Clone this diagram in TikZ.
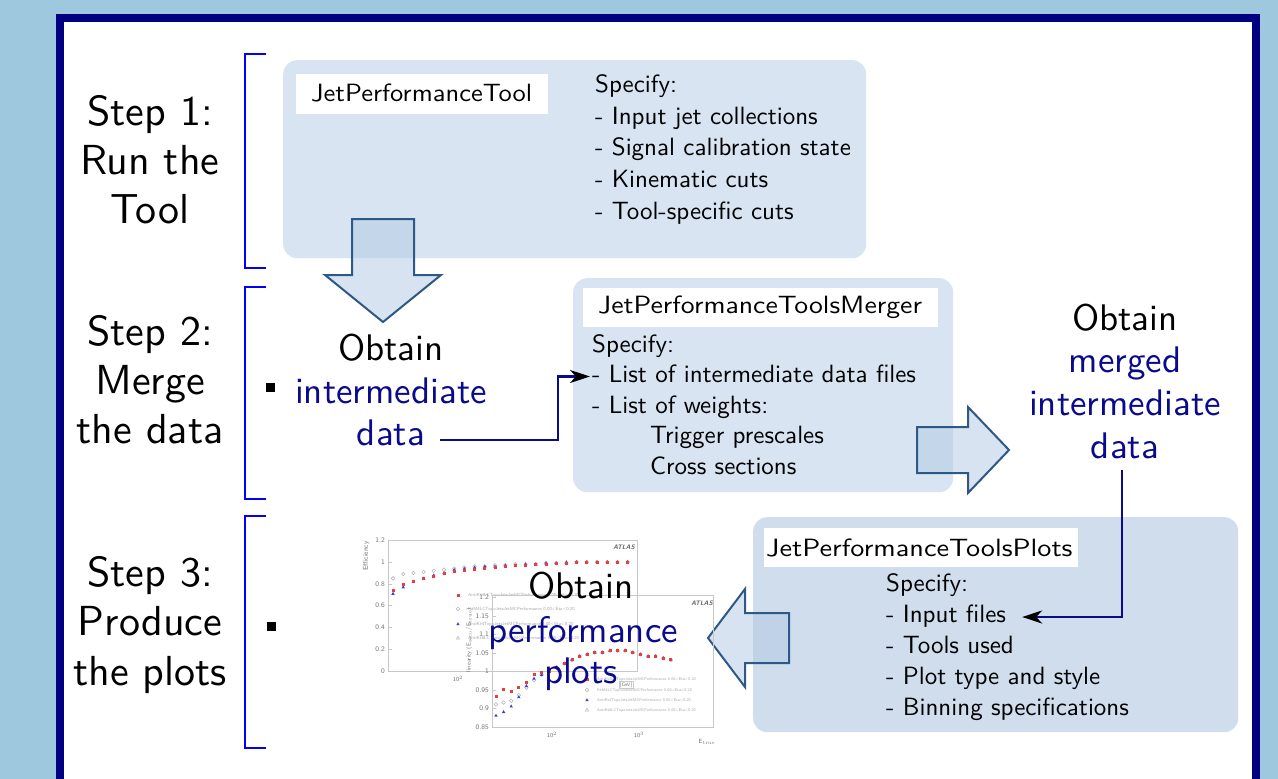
\documentclass[tikz,border=0pt]{standalone}
\usetikzlibrary{arrows.meta}
% Latin Modern Sans at its 10pt design size, used at every size
\DeclareFontFamily{TU}{lmssten}{}
\DeclareFontShape{TU}{lmssten}{m}{n}{<-> "[lmsans10-regular]:+tlig;"}{}
\definecolor{bgblue}{RGB}{157,200,222}
\definecolor{framenavy}{RGB}{0,0,128}
\definecolor{bracketblue}{RGB}{0,0,255}
\definecolor{boxfill}{RGB}{216,228,242}
\definecolor{boxfillb}{RGB}{207,221,236}
\definecolor{arrowfill}{RGB}{178,201,228}
\definecolor{arrowedge}{RGB}{46,88,133}
\definecolor{textnavy}{RGB}{10,10,140}
\definecolor{ptred}{RGB}{235,60,60}
\definecolor{ptblue}{RGB}{60,60,230}
\newcommand{\tensans}{\fontfamily{lmssten}\fontseries{m}\fontshape{n}}
\tikzset{
  steplabel/.style={font=\tensans\fontsize{42}{49}\selectfont, anchor=base, inner sep=0pt},
  obtain/.style={font=\tensans\fontsize{37}{42}\selectfont, anchor=base, inner sep=0pt},
  spec/.style={font=\tensans\fontsize{25}{31}\selectfont, anchor=base west, inner sep=0pt},
  tagtext/.style={font=\tensans\fontsize{25}{30}\selectfont, anchor=base west, inner sep=0pt},
  tag/.style={fill=white, anchor=north west, inner sep=0pt},
  panel/.style={fill=#1, rounded corners=14pt, anchor=north west, inner sep=0pt},
  bracket/.style={draw=bracketblue, line width=2.5pt},
  bigarrow/.style={draw=arrowedge, line width=2pt, fill=arrowfill, fill opacity=0.5, line join=miter},
  conn/.style={draw=textnavy, line width=2.5pt, line join=miter,
    -{Stealth[length=20pt,width=13pt,inset=6pt,black]}},
  bulletsq/.style={fill=black, minimum size=9pt, inner sep=0pt},
  plotframe/.style={draw=black!22, line width=0.8pt},
  ticklab/.style={font=\sffamily\fontsize{7}{8}\selectfont, text=black!55, inner sep=0pt},
  leglab/.style={font=\sffamily\fontsize{4.5}{5}\selectfont, text=black!35, anchor=west, inner sep=0pt},
  atlas/.style={font=\sffamily\bfseries\itshape\fontsize{6.5}{7}\selectfont, text=black!60, inner sep=0pt},
}
\begin{document}
\begin{tikzpicture}[x=1pt,y=-1pt]
\useasboundingbox (0,0) rectangle (1278,779);
% backdrop and slide frame
\fill[bgblue] (0,0) rectangle (1278,779);
\fill[framenavy] (56,14) rectangle (1260,779);
\fill[white] (64,22) rectangle (1252,779);

% step brackets
\draw[bracket] (266,54) -- (245,54) -- (245,268) -- (266,268);
\draw[bracket] (266,287) -- (245,287) -- (245,499) -- (266,499);
\draw[bracket] (266,516) -- (245,516) -- (245,748) -- (266,748);

% step labels
\node[steplabel] (s1a) at (150,125) {Step 1:};
\node[steplabel] (s1b) at (150,174) {Run the};
\node[steplabel] (s1c) at (150,223) {Tool};
\node[steplabel] (s2a) at (150,345) {Step 2:};
\node[steplabel] (s2b) at (150,394) {Merge};
\node[steplabel] (s2c) at (150,443) {the data};
\node[steplabel] (s3a) at (150,586) {Step 3:};
\node[steplabel] (s3b) at (150,635) {Produce};
\node[steplabel] (s3c) at (150,685) {the plots};

% bullets
\node[bulletsq] (b2) at (270,387) {};
\node[bulletsq] (b3) at (271,626) {};

% tool panels
\node[panel=boxfill, minimum width=583pt, minimum height=198pt] (toolpanel) at (283,60) {};
\node[panel=boxfill, minimum width=380pt, minimum height=214pt] (mergepanel) at (573,278) {};
\node[panel=boxfillb, minimum width=485pt, minimum height=215pt] (plotpanel) at (753,517) {};

% panel titles
\node[tag, minimum width=252pt, minimum height=40pt] (tag1) at (296,74) {};
\node[tagtext] (title1) at (311,101) {\scalebox{1.06}[1]{JetPerformanceTool}};
\node[tag, minimum width=355pt, minimum height=39pt] (tag2) at (583,288) {};
\node[tagtext] (title2) at (598,313) {\scalebox{1.11}[1]{JetPerformanceToolsMerger}};
\node[tag, minimum width=314pt, minimum height=39pt] (tag3) at (764,528) {};
\node[tagtext] (title3) at (766,556) {\scalebox{1.13}[1]{JetPerformanceToolsPlots}};

% panel contents
\node[spec] (t1) at (595,92) {Specify:};
\node[spec] (t2) at (595,124) {- Input jet collections};
\node[spec] (t3) at (595,155.5) {- Signal calibration state};
\node[spec] (t4) at (595,187) {- Kinematic cuts};
\node[spec] (t5) at (595,219) {- Tool-specific cuts};

\node[spec] (m1) at (592,352) {Specify:};
\node[spec] (m2) at (592,382.5) {- List of intermediate data files};
\node[spec] (m3) at (592,413) {- List of weights:};
\node[spec] (m4) at (650,443.5) {Trigger prescales};
\node[spec] (m5) at (650,474) {Cross sections};

\node[spec] (p1) at (886,591) {Specify:};
\node[spec] (p2) at (886,622) {- Input files};
\node[spec] (p3) at (886,653) {- Tools used};
\node[spec] (p4) at (886,684.5) {- Plot type and style};
\node[spec] (p5) at (886,715) {- Binning specifications};

% block arrows
\path[bigarrow] (352,219) -- (414,219) -- (414,275) -- (441,275) -- (383,322)
  -- (325,275) -- (352,275) -- cycle;
\path[bigarrow] (917,427) -- (968,427) -- (968,407) -- (1009,450) -- (968,493)
  -- (968,473) -- (917,473) -- cycle;
\path[bigarrow] (789,613) -- (745,613) -- (745,589) -- (708,638) -- (745,687)
  -- (745,663) -- (789,663) -- cycle;

% efficiency plot
\draw[plotframe] (388,540) rectangle (637,671);
\foreach \v/\y in {1.2/540,1/562,0.8/584,0.6/605,0.4/627,0.2/649,0/671}{
  \node[ticklab, anchor=east] at (385,\y) {\v};
  \draw[plotframe] (388,\y) -- (392,\y);
}
\node[ticklab, rotate=90] at (366,556) {Efficiency};
\node[atlas] at (624,547) {ATLAS};
\node[ticklab, font=\sffamily\fontsize{6}{7}\selectfont] at (458,679) {10$^2$};
\foreach \v [count=\i from 0] in {0.85,0.89,0.90,0.91,0.92,0.93,0.94,0.95,0.96,0.96,0.97,0.97,0.98,0.98,0.98,0.99,0.99,0.99,1,1,1,1,1,1}
  \draw[black!30, line width=0.5pt] ({393+10.2*\i},{671-109*\v}) circle (1.8pt);
\foreach \v [count=\i from 0] in {0.71,0.77,0.82,0.85,0.88,0.90,0.93,0.94,0.95,0.96,0.96,0.97,0.97,0.98,0.98,0.99,0.99,1,1,1,1,1,1,1}
  \fill[ptblue] ({393+10.2*\i},{671-109*\v}) +(0,-1.8) -- +(1.7,1.2) -- +(-1.7,1.2) -- cycle;
\foreach \v [count=\i from 0] in {0.74,0.79,0.82,0.85,0.87,0.89,0.91,0.92,0.93,0.94,0.95,0.96,0.97,0.97,0.98,0.98,0.99,0.99,1,1,1,1,1,1}
  \fill[ptred] ({393+10.2*\i-1.5},{671-109*\v-1.5}) rectangle +(3,3);
\fill[ptred] (456.5,593.5) rectangle +(3,3);
\draw[black!30, line width=0.5pt] (458,609) circle (1.8pt);
\fill[ptblue] (458,624) +(0,-1.8) -- +(1.7,1.2) -- +(-1.7,1.2) -- cycle;
\draw[black!30, line width=0.5pt] (458,638) +(0,-1.8) -- +(1.7,1.2) -- +(-1.7,1.2) -- cycle;
\node[leglab] at (468,595) {AntiKt4LCTopoJetsJetMCPerformance 0.00<Eta<0.20};
\node[leglab] at (468,609) {KtM4LCTopoJetsJetMCPerformance 0.00<Eta<0.20};
\node[leglab] at (468,624) {AntiKt4TopoJetsJetMCPerformance 0.00<Eta<0.20};
\node[leglab] at (468,638) {AntiKt6LCTopoJetsJetMCPerformance 0.00<Eta<0.20};

% linearity plot
\draw[plotframe] (492,595) rectangle (713,727);
\foreach \v/\y in {1.2/597,1.15/616,1.1/634,1.05/653,1/671,0.95/690,0.9/708,0.85/727}{
  \node[ticklab, anchor=east] at (489,\y) {\v};
  \draw[plotframe] (492,\y) -- (496,\y);
}
\node[ticklab, rotate=90, font=\sffamily\fontsize{6}{7}\selectfont] at (469,640)
  {linearity (E$_{\mathrm{reco}}$/E$_{\mathrm{true}}$)};
\node[atlas] at (702,603) {ATLAS};
\node[ticklab, font=\sffamily\fontsize{6}{7}\selectfont] at (552,735) {10$^2$};
\node[ticklab, font=\sffamily\fontsize{6}{7}\selectfont] at (639,735) {10$^3$};
\node[ticklab, font=\sffamily\fontsize{6}{7}\selectfont] at (707,742) {E$_{\mathrm{true}}$};
\node[draw=black!20, ticklab, inner sep=1pt, font=\sffamily\fontsize{5}{6}\selectfont] at (626,685) {[GeV]};
\foreach \v [count=\i from 0] in {0.91,0.915,0.92,0.935,0.955,0.975,0.99,1.0,1.01,1.02,1.03,1.04,1.045,1.05,1.05,1.055,1.055,1.055,1.05,1.045,1.04,1.04,1.035,1.03}
  \draw[black!30, line width=0.5pt] ({496+7.6*\i},{671-371*(\v-1)}) circle (1.8pt);
\foreach \v [count=\i from 0] in {0.88,0.89,0.905,0.93,0.96,0.98,0.99,1.0,1.01,1.02,1.03,1.04,1.045,1.05,1.05,1.055,1.055,1.055,1.05,1.045,1.04,1.04,1.035,1.03}
  \fill[ptblue] ({496+7.6*\i},{671-371*(\v-1)}) +(0,-1.8) -- +(1.7,1.2) -- +(-1.7,1.2) -- cycle;
\foreach \v [count=\i from 0] in {0.93,0.95,0.945,0.955,0.97,0.99,0.995,1.0,1.01,1.02,1.03,1.04,1.045,1.05,1.05,1.055,1.055,1.055,1.05,1.045,1.04,1.04,1.035,1.03}
  \fill[ptred] ({496+7.6*\i-1.5},{671-371*(\v-1)-1.5}) rectangle +(3,3);
\fill[ptred] (585.5,677.5) rectangle +(3,3);
\draw[black!30, line width=0.5pt] (587,690) circle (1.8pt);
\fill[ptblue] (587,700) +(0,-1.8) -- +(1.7,1.2) -- +(-1.7,1.2) -- cycle;
\draw[black!30, line width=0.5pt] (587,710) +(0,-1.8) -- +(1.7,1.2) -- +(-1.7,1.2) -- cycle;
\node[leglab, font=\sffamily\fontsize{4}{5}\selectfont] at (597,679) {AntiKt4LCTopoJetsJetMCPerformance 0.00<Eta<0.20};
\node[leglab, font=\sffamily\fontsize{4}{5}\selectfont] at (597,690) {KtM4LCTopoJetsJetMCPerformance 0.00<Eta<0.20};
\node[leglab, font=\sffamily\fontsize{4}{5}\selectfont] at (597,700) {AntiKt4TopoJetsJetMCPerformance 0.00<Eta<0.20};
\node[leglab, font=\sffamily\fontsize{4}{5}\selectfont] at (597,710) {AntiKt6LCTopoJetsJetMCPerformance 0.00<Eta<0.20};

% outcome texts
\node[obtain] (oi1) at (391,360) {Obtain};
\node[obtain, text=textnavy] (oi2) at (391,403) {intermediate};
\node[obtain, text=textnavy] (oi3) at (391,445) {data};

\node[obtain] (om1) at (1125,330) {Obtain};
\node[obtain, text=textnavy] (om2) at (1125,372.5) {merged};
\node[obtain, text=textnavy] (om3) at (1125,415) {intermediate};
\node[obtain, text=textnavy] (om4) at (1125,458) {data};

\node[obtain] (op1) at (581,598) {Obtain};
\node[obtain, text=textnavy] (op2) at (583,642) {performance};
\node[obtain, text=textnavy] (op3) at (581,683) {plots};

% connectors
\draw[conn] ([shift={(15,-5)}]oi3.base east) -- ++(118,0) |- ([shift={(-2,-6)}]m2.base west);
\draw[conn] ([shift={(-3,12)}]om4.base) |- ([shift={(16,-5)}]p2.base east);
\end{tikzpicture}
\end{document}
